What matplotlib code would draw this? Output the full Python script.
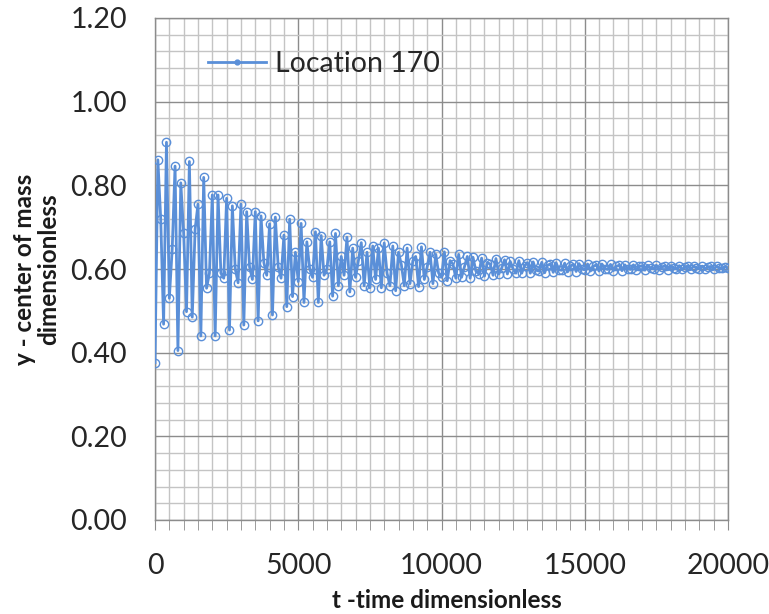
import numpy as np
import matplotlib
matplotlib.use("Agg")
import matplotlib.pyplot as plt
from matplotlib.ticker import MultipleLocator, FormatStrFormatter
from matplotlib.lines import Line2D

plt.rcParams['font.family'] = ['Lato', 'DejaVu Sans']

series_name = "Location 170"
x_label = "t -time dimensionless"
y_label = "y - center of mass\ndimensionless"

t_step = 100
y_values = [
    0.376, 0.861, 0.719, 0.468, 0.903, 0.530, 0.647, 0.846, 0.405, 0.806,
    0.685, 0.498, 0.857, 0.485, 0.695, 0.755, 0.440, 0.819, 0.554, 0.590,
    0.777, 0.440, 0.777, 0.590, 0.578, 0.769, 0.454, 0.751, 0.600, 0.567,
    0.755, 0.466, 0.737, 0.605, 0.575, 0.737, 0.476, 0.727, 0.615, 0.585,
    0.708, 0.490, 0.724, 0.605, 0.578, 0.681, 0.510, 0.719, 0.534, 0.640,
    0.570, 0.709, 0.520, 0.665, 0.600, 0.580, 0.689, 0.520, 0.680, 0.585,
    0.600, 0.665, 0.535, 0.685, 0.560, 0.630, 0.585, 0.676, 0.545, 0.650,
    0.580, 0.620, 0.663, 0.560, 0.640, 0.555, 0.655, 0.575, 0.650, 0.555,
    0.662, 0.590, 0.560, 0.655, 0.548, 0.640, 0.610, 0.560, 0.650, 0.565,
    0.620, 0.630, 0.558, 0.653, 0.575, 0.605, 0.640, 0.565, 0.635, 0.590,
    0.580, 0.641, 0.572, 0.620, 0.612, 0.578, 0.635, 0.580, 0.605, 0.630,
    0.578, 0.628, 0.595, 0.588, 0.626, 0.583, 0.615, 0.612, 0.585, 0.625,
    0.588, 0.602, 0.622, 0.588, 0.618, 0.600, 0.590, 0.620, 0.590, 0.608,
    0.615, 0.590, 0.617, 0.597, 0.595, 0.616, 0.591, 0.609, 0.612, 0.592,
    0.615, 0.598, 0.597, 0.614, 0.593, 0.607, 0.611, 0.594, 0.613, 0.600,
    0.598, 0.612, 0.595, 0.606, 0.610, 0.595, 0.612, 0.601, 0.599, 0.611,
    0.596, 0.606, 0.609, 0.596, 0.610, 0.601, 0.599, 0.610, 0.597, 0.606,
    0.608, 0.597, 0.609, 0.602, 0.600, 0.609, 0.598, 0.605, 0.608, 0.598,
    0.608, 0.602, 0.600, 0.608, 0.599, 0.605, 0.607, 0.599, 0.607, 0.603,
    0.601, 0.607, 0.600, 0.605, 0.606, 0.600, 0.606, 0.603, 0.602, 0.605,
    0.603,
]
t_values = np.arange(len(y_values)) * t_step

x_ticks = [0, 5000, 10000, 15000, 20000]
y_ticks = [0.00, 0.20, 0.40, 0.60, 0.80, 1.00, 1.20]

line_color = '#5a8fd8'

fig = plt.figure(figsize=(7.69, 6.14), dpi=100)
ax = fig.add_axes([155/769, 1 - 520/614, 573/769, 502/614])

ax.plot(t_values, y_values, color=line_color, lw=2.0, marker='o', ms=6,
        mfc='none', mec=line_color, mew=1.0, label=series_name, zorder=3)

ax.set_xlim(0, 20000)
ax.set_ylim(0, 1.2)
ax.set_xticks(x_ticks)
ax.set_yticks(y_ticks)
ax.xaxis.set_minor_locator(MultipleLocator(500))
ax.yaxis.set_minor_locator(MultipleLocator(0.04))
ax.yaxis.set_major_formatter(FormatStrFormatter('%.2f'))

ax.grid(which='major', color='#8c8c8c', lw=1.0, zorder=0)
ax.grid(which='minor', color='#c4c4c4', lw=1.0, zorder=0)
ax.set_axisbelow(True)

for s in ax.spines.values():
    s.set_color('#8c8c8c')
    s.set_linewidth(1.0)

ax.tick_params(axis='x', which='both', direction='out', length=7, color='#8c8c8c',
               labelsize=20.5, labelcolor='#262626', pad=17)
ax.tick_params(axis='y', which='both', length=0, labelsize=20.5,
               labelcolor='#262626', pad=20)

ax.set_xlabel(x_label, fontsize=17.5, fontweight='bold', color='#1a1a1a')
ax.xaxis.set_label_coords(0.51, -0.138)
ax.set_ylabel(y_label, fontsize=17.5, fontweight='bold', color='#1a1a1a',
              linespacing=1.1)
ax.yaxis.set_label_coords(-0.165, 0.5)

handle = Line2D([], [], color=line_color, lw=2.0, marker='o', ms=3.5,
                mfc=line_color, mec=line_color)
leg = ax.legend([handle], [series_name], loc='upper left',
                bbox_to_anchor=(0.0925, 0.935), frameon=False,
                fontsize=20.5, handlelength=2.05, handletextpad=0.3,
                borderaxespad=0, borderpad=0)
for txt in leg.get_texts():
    txt.set_color('#262626')

fig.savefig('out.png', dpi=100, facecolor='white')
